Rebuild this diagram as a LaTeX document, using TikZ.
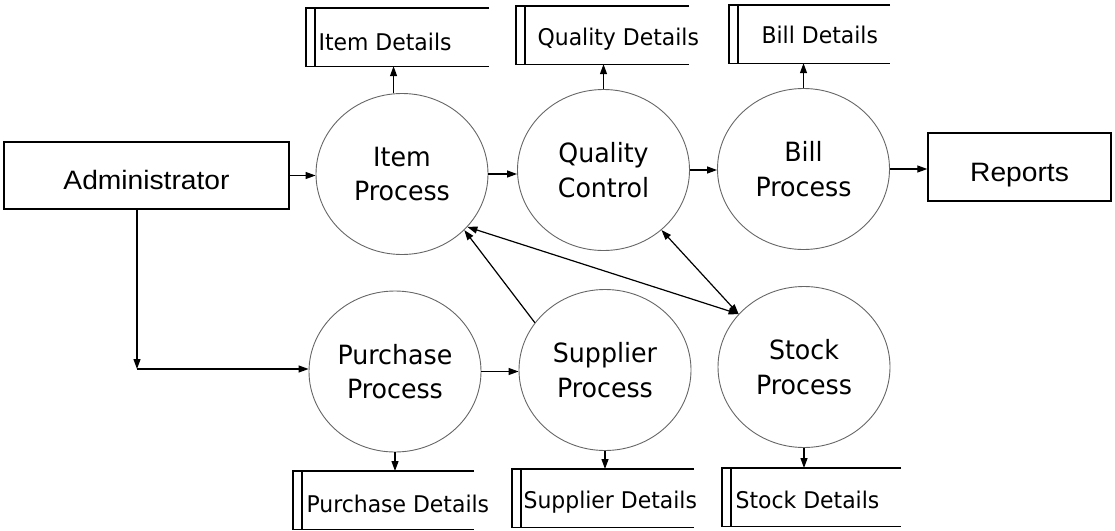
\documentclass[tikz,border=0pt]{standalone}
\usepackage{fontspec}
\newfontfamily\procfont[FakeStretch=1.06]{DejaVu Sans Condensed}
\newfontfamily\boxfont[FakeStretch=1.06]{Liberation Sans}
\usetikzlibrary{shapes.geometric,arrows.meta}

\begin{document}
\begin{tikzpicture}[x=1pt, y=-1pt, line width=1.2pt, >={Triangle[length=10pt,width=7pt]},
  process/.style={ellipse, draw=black!60, line width=0.9pt, minimum width=172, minimum height=161, inner sep=0pt, align=center, font=\procfont\fontsize{26.5}{34.5}\selectfont},
  entity/.style={rectangle, draw, line width=1.4pt, inner sep=0pt, text height=28, text depth=0, font=\boxfont\fontsize{26.6}{32}\selectfont},
  store/.style={rectangle, minimum height=57, inner sep=0pt, anchor=north west},
  storetext/.style={anchor=base west, inner sep=0pt, font=\procfont\fontsize{23}{28}\selectfont}]
\useasboundingbox (0,0) rectangle (1115,530);
\begin{scope}
\node[entity, minimum width=285, minimum height=67] (admin) at (146.5,175.5) {Administrator};
\node[entity, minimum width=183, minimum height=68] (reports) at (1019.5,167) {Reports};
\node[process] (item) at (402,174) {Item\\Process};
\node[process] (quality) at (603.5,170) {Quality\\Control};
\node[process] (bill) at (803.5,169) {Bill\\Process};
\node[process] (purchase) at (395,371.5) {Purchase\\Process};
\node[process] (supplier) at (605,370) {Supplier\\Process};
\node[process] (stock) at (804,367) {Stock\\Process};
\end{scope}
% data stores, open on the right
\begin{scope}
\node[store, minimum width=182] (itemdb) at (306,8) {};
\node[storetext] (itemdbtxt) at (318,50) {Item Details};
\node[store, minimum width=172] (qualitydb) at (516,6) {};
\node[storetext] (qualitydbtxt) at (537,45) {Quality Details};
\node[store, minimum width=160] (billdb) at (729,5) {};
\node[storetext] (billdbtxt) at (761,43) {Bill Details};
\node[store, minimum width=180] (purchasedb) at (293,471) {};
\node[storetext] (purchasedbtxt) at (306,512) {Purchase Details};
\node[store, minimum width=181] (supplierdb) at (512,469) {};
\node[storetext] (supplierdbtxt) at (523,508) {Supplier Details};
\node[store, minimum width=178] (stockdb) at (722,468) {};
\node[storetext] (stockdbtxt) at (735,508) {Stock Details};
\foreach \db in {itemdb,qualitydb,billdb,purchasedb,supplierdb,stockdb}
  \draw[line width=1.4pt] (\db.north east) -- (\db.north west) -- (\db.south west) -- (\db.south east)
    ([xshift=9pt]\db.north west) -- ([xshift=9pt]\db.south west);
\end{scope}
\begin{scope}
\draw[->] (admin.east) -- (admin.east -| item.west);
\draw[->] (item.east) -- (item.east -| quality.west);
\draw[->] (quality.east) -- (quality.east -| bill.west);
\draw[->] (bill.east) -- (bill.east -| reports.west);
\draw[->] (item.96) -- (item.96 |- itemdb.south);
\draw[->] (quality.north) -- (quality.north |- qualitydb.south);
\draw[->] (bill.north) -- (bill.north |- billdb.south);
\coordinate (corner) at (137,369);
\draw[->] (admin.south -| corner) -- (corner);
\draw[->] (corner) -- (corner -| purchase.west);
\draw[->] (purchase.east) -- (purchase.east -| supplier.west);
\draw[->] (purchase.south) -- (purchase.south |- purchasedb.north);
\draw[->] (supplier.south) -- (supplier.south |- supplierdb.north);
\draw[->] (stock.south) -- (stock.south |- stockdb.north);
\draw[->] (supplier.146) -- (item.-42);
\draw[<->] (item.-39) -- (stock.141);
\draw[<->] (quality.-46) -- (stock.141);
\end{scope}
\end{tikzpicture}
\end{document}
